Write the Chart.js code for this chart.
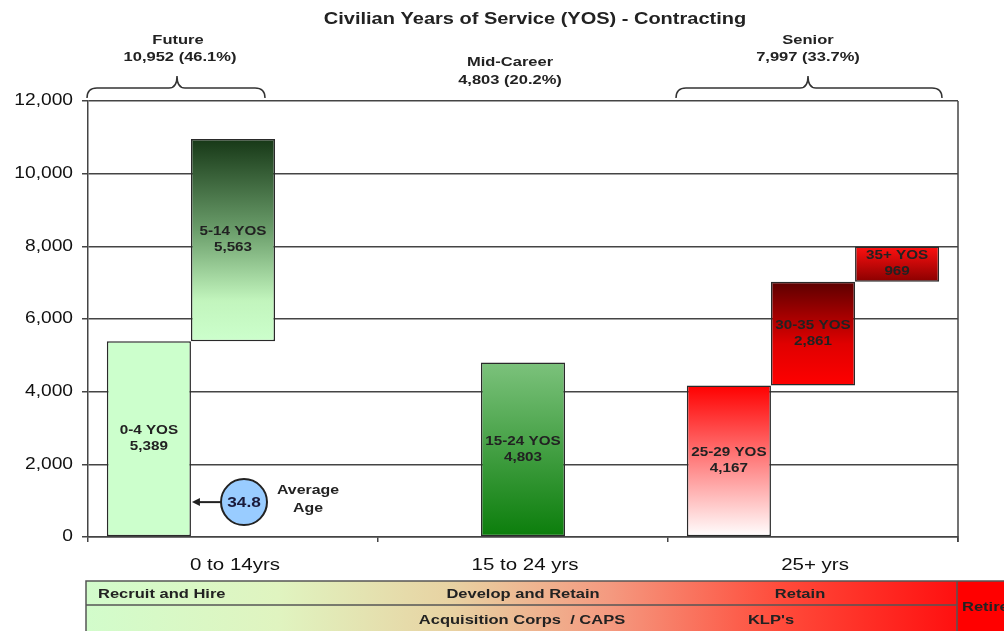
<!DOCTYPE html>
<html lang="en">
<head>
<meta charset="UTF-8">
<title>Civilian Years of Service (YOS) - Contracting</title>
<script src="https://cdn.jsdelivr.net/npm/chart.js"></script>
<style>
  body { margin: 0; background: #fff; }
  canvas { display: block; }
</style>
</head>
<body>
<canvas id="grafico" width="1004" height="631"></canvas>
<script>
// categorias del eje x
const categories = ["0 to 14yrs", "15 to 24 yrs", "25+ yrs"];

// tramos de años de servicio
const yosLabels = ["0-4 YOS", "5-14 YOS", "15-24 YOS", "25-29 YOS", "30-35 YOS", "35+ YOS"];
const yosCounts = [5389, 5563, 4803, 4167, 2861, 969];
const yosCategory = [0, 0, 1, 2, 2, 2];
const yosSlot = [0, 1, 1, 0, 1, 2];

const yTicks = [0, 2000, 4000, 6000, 8000, 10000, 12000];

const groupTitles = ["Future", "Mid-Career", "Senior"];
const groupTotals = ["10,952 (46.1%)", "4,803 (20.2%)", "7,997 (33.7%)"];
const averageAge = "34.8";

// colores de cada barra (degradado de arriba hacia abajo)
const yosStops = [
    [[0, "#ccffcc"], [1, "#ccffcc"]],
    [[0, "#173817"], [0.45, "#6a9d6a"], [0.8, "#c2f5bd"], [1, "#ccffcc"]],
    [[0, "#7cc27c"], [1, "#0b7d0b"]],
    [[0, "#ff0000"], [0.5, "#ff8080"], [1, "#ffffff"]],
    [[0, "#5c0000"], [0.6, "#e00000"], [1, "#ff0000"]],
    [[0, "#ff1010"], [1, "#8a0000"]]
];

// construir los rangos flotantes por slot
const nSlots = 3;
const slotData = [];
const slotIndex = [];
for (let s = 0; s < nSlots; s++) {
    slotData.push(categories.map(() => null));
    slotIndex.push(categories.map(() => -1));
}
const baseSum = categories.map(() => 0);
yosCounts.forEach((v, i) => {
    const c = yosCategory[i];
    slotData[yosSlot[i]][c] = [baseSum[c], baseSum[c] + v];
    slotIndex[yosSlot[i]][c] = i;
    baseSum[c] += v;
});

function barFill(ctx) {
    const chart = ctx.chart;
    if (!chart.chartArea || !ctx.raw) return "#ccffcc";
    const idx = slotIndex[ctx.datasetIndex][ctx.dataIndex];
    if (idx < 0) return "#ccffcc";
    const y = chart.scales.y;
    const top = y.getPixelForValue(ctx.raw[1]);
    const bot = y.getPixelForValue(ctx.raw[0]);
    const g = chart.ctx.createLinearGradient(0, top, 0, bot);
    yosStops[idx].forEach(st => g.addColorStop(st[0], st[1]));
    return g;
}

const FONT = "'Liberation Sans', Arial, sans-serif";
const STRETCH = 1.27;

// texto estirado en horizontal (el original se ve más ancho)
function txt(c, s, x, y, sx) {
    c.save();
    c.translate(x, y);
    c.scale(sx || STRETCH, 1);
    c.fillText(s, 0, 0);
    c.restore();
}

function brace(c, x1, x2, xm, yTop, yLine, yEnd) {
    const r = 10;
    c.beginPath();
    c.moveTo(x1, yEnd);
    c.quadraticCurveTo(x1, yLine, x1 + r, yLine);
    c.lineTo(xm - 8, yLine);
    c.quadraticCurveTo(xm, yLine, xm, yTop);
    c.quadraticCurveTo(xm, yLine, xm + 8, yLine);
    c.lineTo(x2 - r, yLine);
    c.quadraticCurveTo(x2, yLine, x2, yEnd);
    c.stroke();
}

const extras = {
    id: "extras",
    afterDraw(chart) {
        const c = chart.ctx;
        const area = chart.chartArea;
        const xs = chart.scales.x;
        const ys = chart.scales.y;
        c.save();

        // borde derecho del área
        c.strokeStyle = "#444";
        c.lineWidth = 1.5;
        c.beginPath();
        c.moveTo(area.right, area.top);
        c.lineTo(area.right, area.bottom + 5);
        c.stroke();

        // etiquetas de los ejes
        c.fillStyle = "#111";
        c.textBaseline = "middle";
        c.font = "16px " + FONT;
        c.textAlign = "right";
        ys.ticks.forEach((t, i) => {
            txt(c, t.value.toLocaleString("en-US"), area.left - 15, ys.getPixelForTick(i), 1.2);
        });
        c.textAlign = "center";
        xs.ticks.forEach((t, i) => {
            txt(c, categories[i], xs.getPixelForTick(i) + 2, 566, 1.28);
        });

        // etiquetas dentro de las barras
        c.fillStyle = "#222";
        c.font = "bold 12px " + FONT;
        for (let s = 0; s < nSlots; s++) {
            const meta = chart.getDatasetMeta(s);
            meta.data.forEach((el, j) => {
                const idx = slotIndex[s][j];
                if (idx < 0) return;
                const cy = (el.y + el.base) / 2;
                txt(c, yosLabels[idx], el.x, cy - 8);
                txt(c, yosCounts[idx].toLocaleString("en-US"), el.x, cy + 8);
            });
        }

        // título
        c.fillStyle = "#222";
        c.font = "bold 16px " + FONT;
        txt(c, "Civilian Years of Service (YOS) - Contracting", 535, 20, 1.25);

        // grupos
        c.font = "bold 13px " + FONT;
        txt(c, groupTitles[0], 178, 40);
        txt(c, groupTotals[0], 180, 57);
        txt(c, groupTitles[1], 510, 62);
        txt(c, groupTotals[1], 510, 80);
        txt(c, groupTitles[2], 808, 40);
        txt(c, groupTotals[2], 808, 57);

        c.strokeStyle = "#333";
        c.lineWidth = 1.5;
        brace(c, 87, 265, 177, 76, 88, 98);
        brace(c, 676, 942, 808, 76, 88, 98);

        // edad promedio
        const el0 = chart.getDatasetMeta(0).data[0];
        const edge = el0.x + el0.width / 2;
        const ay = ys.getPixelForValue(960);
        const cx = 244, r = 23;
        c.strokeStyle = "#222";
        c.lineWidth = 2;
        c.beginPath();
        c.moveTo(cx - r, ay);
        c.lineTo(edge + 6, ay);
        c.stroke();
        c.fillStyle = "#222";
        c.beginPath();
        c.moveTo(edge + 1, ay);
        c.lineTo(edge + 9, ay - 4);
        c.lineTo(edge + 9, ay + 4);
        c.closePath();
        c.fill();
        c.beginPath();
        c.arc(cx, ay, r, 0, Math.PI * 2);
        c.fillStyle = "#99ccff";
        c.fill();
        c.lineWidth = 2;
        c.stroke();
        c.fillStyle = "#1a1a3a";
        c.font = "bold 15px " + FONT;
        txt(c, averageAge, cx, ay + 1, 1.15);
        c.fillStyle = "#222";
        c.font = "bold 13px " + FONT;
        txt(c, "Average", 308, ay - 12, 1.22);
        txt(c, "Age", 308, ay + 6, 1.22);

        // banda inferior
        const bx1 = 86, bx2 = 957, by1 = 581, by2 = 605, by3 = 631;
        const g = c.createLinearGradient(bx1, 0, bx2, 0);
        g.addColorStop(0, "#d2fccb");
        g.addColorStop(0.22, "#e0f4c0");
        g.addColorStop(0.42, "#e8d2a2");
        g.addColorStop(0.6, "#f49a80");
        g.addColorStop(0.8, "#ff4a3a");
        g.addColorStop(1, "#ff1010");
        c.fillStyle = g;
        c.fillRect(bx1, by1, bx2 - bx1, by3 - by1);
        c.fillStyle = "#ff0000";
        c.fillRect(bx2, by1, 1004 - bx2, by3 - by1);
        c.strokeStyle = "#555";
        c.lineWidth = 1.5;
        c.strokeRect(bx1, by1, 1004 - bx1 + 2, by3 - by1 + 2);
        c.beginPath();
        c.moveTo(bx1, by2);
        c.lineTo(bx2, by2);
        c.moveTo(bx2, by1);
        c.lineTo(bx2, by3);
        c.stroke();

        c.fillStyle = "#222";
        c.font = "bold 13px " + FONT;
        c.textAlign = "left";
        txt(c, "Recruit and Hire", 98, 594);
        txt(c, "Retire", 962, 607);
        c.textAlign = "center";
        txt(c, "Develop and Retain", 523, 594);
        txt(c, "Retain", 800, 594);
        txt(c, "Acquisition Corps  / CAPS", 522, 620);
        txt(c, "KLP's", 771, 620);

        c.restore();
    }
};

const ctx = document.getElementById("grafico").getContext("2d");
new Chart(ctx, {
    type: "bar",
    data: {
        labels: categories,
        datasets: slotData.map((d, s) => ({
            label: "slot " + (s + 1),
            data: d,
            backgroundColor: barFill,
            borderColor: "#2a2a2a",
            borderWidth: 1.5,
            borderSkipped: false,
            categoryPercentage: 0.87,
            barPercentage: 1.0
        }))
    },
    options: {
        responsive: false,
        animation: false,
        layout: { padding: { top: 101, right: 46, left: 0, bottom: 0 } },
        plugins: {
            legend: { display: false },
            tooltip: { enabled: false }
        },
        scales: {
            x: {
                offset: true,
                grid: { offset: true, drawOnChartArea: false, drawTicks: true, tickLength: 5, color: "#444", lineWidth: 1.5 },
                border: { color: "#444", width: 1.5 },
                ticks: { display: false },
                afterFit: s => { s.height = 94; }
            },
            y: {
                min: 0,
                max: 12000,
                afterBuildTicks: s => { s.ticks = yTicks.map(v => ({ value: v })); },
                grid: { color: "#444", lineWidth: 1.5, tickLength: 6 },
                border: { color: "#444", width: 1.5 },
                ticks: { display: false },
                afterFit: s => { s.width = 88; }
            }
        }
    },
    plugins: [extras]
});
</script>
</body>
</html>
